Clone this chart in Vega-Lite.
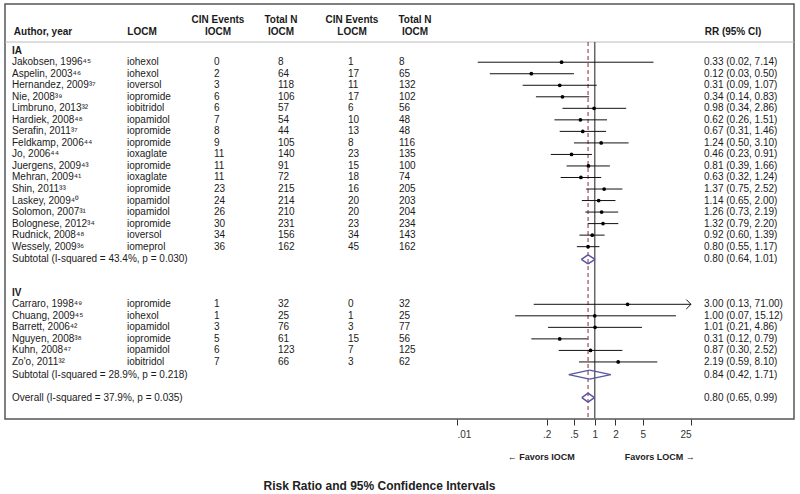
{
  "$schema": "https://vega.github.io/schema/vega-lite/v6.json",
  "width": 789,
  "height": 415,
  "autosize": {"type": "none"},
  "padding": {"left": 5, "top": 4, "right": 6, "bottom": 75},
  "background": "white",
  "config": {
    "view": {"stroke": "#555555", "strokeWidth": 1.5},
    "font": "Liberation Sans",
    "text": {"font": "Liberation Sans"}
  },
  "title": {
    "text": "Risk Ratio and 95% Confidence Intervals",
    "orient": "bottom",
    "anchor": "middle",
    "font": "Liberation Sans",
    "fontSize": 12,
    "fontWeight": "bold",
    "color": "#222222",
    "dx": -20,
    "offset": 19
  },
  "datasets": {
    "studies": [
      {"row": 5, "kind": "study", "author": "Jakobsen, 1996⁴⁵", "locm": "iohexol", "ei": 0, "ni": 8, "el": 1, "nl": 8, "rr": 0.33, "lo": 0.02, "hi": 7.14, "rrtxt": "0.33 (0.02, 7.14)"},
      {"row": 6, "kind": "study", "author": "Aspelin, 2003⁴⁶", "locm": "iohexol", "ei": 2, "ni": 64, "el": 17, "nl": 65, "rr": 0.12, "lo": 0.03, "hi": 0.5, "rrtxt": "0.12 (0.03, 0.50)"},
      {"row": 7, "kind": "study", "author": "Hernandez, 2009³⁷", "locm": "ioversol", "ei": 3, "ni": 118, "el": 11, "nl": 132, "rr": 0.31, "lo": 0.09, "hi": 1.07, "rrtxt": "0.31 (0.09, 1.07)"},
      {"row": 8, "kind": "study", "author": "Nie, 2008³⁹", "locm": "iopromide", "ei": 6, "ni": 106, "el": 17, "nl": 102, "rr": 0.34, "lo": 0.14, "hi": 0.83, "rrtxt": "0.34 (0.14, 0.83)"},
      {"row": 9, "kind": "study", "author": "Limbruno, 2013³²", "locm": "iobitridol", "ei": 6, "ni": 57, "el": 6, "nl": 56, "rr": 0.98, "lo": 0.34, "hi": 2.86, "rrtxt": "0.98 (0.34, 2.86)"},
      {"row": 10, "kind": "study", "author": "Hardiek, 2008⁴⁸", "locm": "iopamidol", "ei": 7, "ni": 54, "el": 10, "nl": 48, "rr": 0.62, "lo": 0.26, "hi": 1.51, "rrtxt": "0.62 (0.26, 1.51)"},
      {"row": 11, "kind": "study", "author": "Serafin, 2011³⁷", "locm": "iopromide", "ei": 8, "ni": 44, "el": 13, "nl": 48, "rr": 0.67, "lo": 0.31, "hi": 1.46, "rrtxt": "0.67 (0.31, 1.46)"},
      {"row": 12, "kind": "study", "author": "Feldkamp, 2006⁴⁴", "locm": "iopromide", "ei": 9, "ni": 105, "el": 8, "nl": 116, "rr": 1.24, "lo": 0.5, "hi": 3.1, "rrtxt": "1.24 (0.50, 3.10)"},
      {"row": 13, "kind": "study", "author": "Jo, 2006⁴⁴", "locm": "ioxaglate", "ei": 11, "ni": 140, "el": 23, "nl": 135, "rr": 0.46, "lo": 0.23, "hi": 0.91, "rrtxt": "0.46 (0.23, 0.91)"},
      {"row": 14, "kind": "study", "author": "Juergens, 2009⁴³", "locm": "iopromide", "ei": 11, "ni": 91, "el": 15, "nl": 100, "rr": 0.81, "lo": 0.39, "hi": 1.66, "rrtxt": "0.81 (0.39, 1.66)"},
      {"row": 15, "kind": "study", "author": "Mehran, 2009⁴¹", "locm": "ioxaglate", "ei": 11, "ni": 72, "el": 18, "nl": 74, "rr": 0.63, "lo": 0.32, "hi": 1.24, "rrtxt": "0.63 (0.32, 1.24)"},
      {"row": 16, "kind": "study", "author": "Shin, 2011³³", "locm": "iopromide", "ei": 23, "ni": 215, "el": 16, "nl": 205, "rr": 1.37, "lo": 0.75, "hi": 2.52, "rrtxt": "1.37 (0.75, 2.52)"},
      {"row": 17, "kind": "study", "author": "Laskey, 2009⁴⁰", "locm": "iopamidol", "ei": 24, "ni": 214, "el": 20, "nl": 203, "rr": 1.14, "lo": 0.65, "hi": 2.0, "rrtxt": "1.14 (0.65, 2.00)"},
      {"row": 18, "kind": "study", "author": "Solomon, 2007³¹", "locm": "iopamidol", "ei": 26, "ni": 210, "el": 20, "nl": 204, "rr": 1.26, "lo": 0.73, "hi": 2.19, "rrtxt": "1.26 (0.73, 2.19)"},
      {"row": 19, "kind": "study", "author": "Bolognese, 2012³⁴", "locm": "iopromide", "ei": 30, "ni": 231, "el": 23, "nl": 234, "rr": 1.32, "lo": 0.79, "hi": 2.2, "rrtxt": "1.32 (0.79, 2.20)"},
      {"row": 20, "kind": "study", "author": "Rudnick, 2008⁴⁸", "locm": "ioversol", "ei": 34, "ni": 156, "el": 34, "nl": 143, "rr": 0.92, "lo": 0.6, "hi": 1.39, "rrtxt": "0.92 (0.60, 1.39)"},
      {"row": 21, "kind": "study", "author": "Wessely, 2009³⁶", "locm": "iomeprol", "ei": 36, "ni": 162, "el": 45, "nl": 162, "rr": 0.8, "lo": 0.55, "hi": 1.17, "rrtxt": "0.80 (0.55, 1.17)"},
      {"row": 22.1, "kind": "sum", "author": "Subtotal  (I-squared = 43.4%, p = 0.030)", "rr": 0.8, "lo": 0.64, "hi": 1.01, "rrtxt": "0.80 (0.64, 1.01)"},
      {"row": 26, "kind": "study", "author": "Carraro, 1998⁴⁹", "locm": "iopromide", "ei": 1, "ni": 32, "el": 0, "nl": 32, "rr": 3.0, "lo": 0.13, "hi": 71.0, "rrtxt": "3.00 (0.13, 71.00)"},
      {"row": 27, "kind": "study", "author": "Chuang, 2009⁴⁵", "locm": "iohexol", "ei": 1, "ni": 25, "el": 1, "nl": 25, "rr": 1.0, "lo": 0.07, "hi": 15.12, "rrtxt": "1.00 (0.07, 15.12)"},
      {"row": 28, "kind": "study", "author": "Barrett, 2006⁴²", "locm": "iopamidol", "ei": 3, "ni": 76, "el": 3, "nl": 77, "rr": 1.01, "lo": 0.21, "hi": 4.86, "rrtxt": "1.01 (0.21, 4.86)"},
      {"row": 29, "kind": "study", "author": "Nguyen, 2008³⁸", "locm": "iopromide", "ei": 5, "ni": 61, "el": 15, "nl": 56, "rr": 0.31, "lo": 0.12, "hi": 0.79, "rrtxt": "0.31 (0.12, 0.79)"},
      {"row": 30, "kind": "study", "author": "Kuhn, 2008⁴⁷", "locm": "iopamidol", "ei": 6, "ni": 123, "el": 7, "nl": 125, "rr": 0.87, "lo": 0.3, "hi": 2.52, "rrtxt": "0.87 (0.30, 2.52)"},
      {"row": 31, "kind": "study", "author": "Zo'o, 2011³²", "locm": "iobitridol", "ei": 7, "ni": 66, "el": 3, "nl": 62, "rr": 2.19, "lo": 0.59, "hi": 8.1, "rrtxt": "2.19 (0.59, 8.10)"},
      {"row": 32.1, "kind": "sum", "author": "Subtotal  (I-squared = 28.9%, p = 0.218)", "rr": 0.84, "lo": 0.42, "hi": 1.71, "rrtxt": "0.84 (0.42, 1.71)"},
      {"row": 34.1, "kind": "sum", "author": "Overall  (I-squared = 37.9%, p = 0.035)", "rr": 0.8, "lo": 0.65, "hi": 0.99, "rrtxt": "0.80 (0.65, 0.99)"}
    ],
    "cols": [
      {"key": "author", "ci": 0},
      {"key": "locm", "ci": 1},
      {"key": "ei", "ci": 2},
      {"key": "ni", "ci": 3},
      {"key": "el", "ci": 4},
      {"key": "nl", "ci": 5},
      {"key": "rrtxt", "ci": 6}
    ],
    "headers": [
      {"ci": 0, "ln": 2, "h": "Author, year"},
      {"ci": 1, "ln": 2, "h": "LOCM"},
      {"ci": 2, "ln": 1, "h": "CIN Events"},
      {"ci": 2, "ln": 2, "h": "IOCM"},
      {"ci": 3, "ln": 1, "h": "Total N"},
      {"ci": 3, "ln": 2, "h": "IOCM"},
      {"ci": 4, "ln": 1, "h": "CIN Events"},
      {"ci": 4, "ln": 2, "h": "LOCM"},
      {"ci": 5, "ln": 1, "h": "Total N"},
      {"ci": 5, "ln": 2, "h": "IOCM"},
      {"ci": 6, "ln": 2, "h": "RR (95% CI)"}
    ],
    "groups": [
      {"row": 4, "g": "IA"},
      {"row": 25, "g": "IV"}
    ],
    "favors": [
      {"side": "left", "t": "← Favors IOCM"},
      {"side": "right", "t": "Favors LOCM →"}
    ]
  },
  "layer": [
    {
      "layer": [
        {
          "data": {"name": "studies"},
          "transform": [
            {"fold": ["author", "locm", "ei", "ni", "el", "nl", "rrtxt"], "as": ["key", "val"]},
            {"filter": "isValid(datum.val)"},
            {"lookup": "key", "from": {"data": {"name": "cols"}, "key": "key", "fields": ["ci"]}}
          ],
          "mark": {"type": "text", "align": "left", "baseline": "middle", "fontSize": 10, "color": "#1a1a1a"},
          "encoding": {
            "x": {"field": "ci", "type": "quantitative", "axis": null, "scale": {"domain": [0, 1, 2, 3, 4, 5, 6], "range": [7, 122, 209, 273, 343, 394, 699]}},
            "y": {"field": "row", "type": "quantitative", "axis": null, "scale": {"domain": [-0.05, 35.95], "reverse": true, "nice": false, "zero": false}},
            "text": {"field": "val", "type": "nominal"}
          }
        },
        {
          "data": {"name": "groups"},
          "mark": {"type": "text", "align": "left", "baseline": "middle", "fontSize": 10, "fontWeight": "bold", "color": "#1a1a1a"},
          "encoding": {
            "x": {"datum": 0, "type": "quantitative"},
            "y": {"field": "row", "type": "quantitative", "axis": null, "scale": {"domain": [-0.05, 35.95], "reverse": true, "nice": false, "zero": false}},
            "text": {"field": "g", "type": "nominal"}
          }
        }
      ]
    },
    {
      "data": {"name": "headers"},
      "transform": [{"filter": "datum.ln == 1"}],
      "mark": {"type": "text", "align": "center", "baseline": "middle", "fontSize": 10, "fontWeight": "bold", "color": "#1a1a1a"},
      "encoding": {
        "x": {"field": "ci", "type": "quantitative", "axis": null, "scale": {"domain": [0, 1, 2, 3, 4, 5, 6], "range": [38, 137, 213, 276, 347, 410, 728]}},
        "y": {"datum": 1.34, "type": "quantitative", "axis": null, "scale": {"domain": [-0.05, 35.95], "reverse": true, "nice": false, "zero": false}},
        "text": {"field": "h", "type": "nominal"}
      }
    },
    {
      "data": {"name": "headers"},
      "transform": [{"filter": "datum.ln == 2"}],
      "mark": {"type": "text", "align": "center", "baseline": "middle", "fontSize": 10, "fontWeight": "bold", "color": "#1a1a1a"},
      "encoding": {
        "x": {"field": "ci", "type": "quantitative", "axis": null, "scale": {"domain": [0, 1, 2, 3, 4, 5, 6], "range": [38, 137, 213, 276, 347, 410, 728]}},
        "y": {"datum": 2.34, "type": "quantitative", "axis": null, "scale": {"domain": [-0.05, 35.95], "reverse": true, "nice": false, "zero": false}},
        "text": {"field": "h", "type": "nominal"}
      }
    },
    {
      "data": {"values": [{}]},
      "mark": {"type": "rule", "color": "#bbbbbb", "strokeWidth": 1},
      "encoding": {
        "y": {"datum": 3.25, "type": "quantitative", "axis": null, "scale": {"domain": [-0.05, 35.95], "reverse": true, "nice": false, "zero": false}}
      }
    },
    {
      "layer": [
        {
          "data": {"values": [{}]},
          "mark": {"type": "rule", "color": "#666666", "strokeWidth": 1.5},
          "encoding": {
            "x": {"datum": 1, "type": "quantitative", "scale": {"type": "log", "domain": [0.01, 25], "range": [452, 686], "clamp": true, "nice": false},
              "axis": {"orient": "bottom", "values": [0.01, 0.2, 0.5, 1, 2, 5, 25], "labelExpr": "datum.value < 1 ? slice(format(datum.value, '~g'), 1) : format(datum.value, '~g')", "domain": false, "grid": false, "ticks": true, "tickSize": 6, "tickColor": "#333333", "labelFontSize": 10, "labelColor": "#333333", "labelFont": "Liberation Sans", "labelPadding": 4, "title": null}},
            "y": {"datum": 3.25, "type": "quantitative", "axis": null, "scale": {"domain": [-0.05, 35.95], "reverse": true, "nice": false, "zero": false}},
            "y2": {"datum": 35.95}
          }
        },
        {
          "data": {"values": [{}]},
          "mark": {"type": "rule", "color": "#8b2535", "strokeWidth": 1, "strokeDash": [4, 3]},
          "encoding": {
            "x": {"datum": 0.8, "type": "quantitative"},
            "y": {"datum": 3.25, "type": "quantitative"},
            "y2": {"datum": 35.95}
          }
        },
        {
          "data": {"name": "studies"},
          "transform": [{"filter": "datum.kind == 'study'"}],
          "mark": {"type": "rule", "color": "#111111", "strokeWidth": 1},
          "encoding": {
            "x": {"field": "lo", "type": "quantitative"},
            "x2": {"field": "hi"},
            "y": {"field": "row", "type": "quantitative"}
          }
        },
        {
          "data": {"name": "studies"},
          "transform": [{"filter": "datum.kind == 'study'"}],
          "mark": {"type": "point", "shape": "circle", "filled": true, "size": 14, "color": "#000000", "opacity": 1},
          "encoding": {
            "x": {"field": "rr", "type": "quantitative"},
            "y": {"field": "row", "type": "quantitative"}
          }
        },
        {
          "data": {"name": "studies"},
          "transform": [{"filter": "datum.kind == 'study' && datum.hi > 25"}],
          "mark": {"type": "point", "shape": "M -1 -1 L 0 0 L -1 1", "filled": false, "size": 90, "color": "#111111", "strokeWidth": 1, "opacity": 1},
          "encoding": {
            "x": {"field": "hi", "type": "quantitative"},
            "y": {"field": "row", "type": "quantitative"}
          }
        },
        {
          "data": {"name": "studies"},
          "transform": [{"filter": "datum.kind == 'sum'"}],
          "mark": {"type": "rule", "color": "#5656a2", "strokeWidth": 1.5, "y2Offset": -4.5},
          "encoding": {
            "x": {"field": "lo", "type": "quantitative"},
            "x2": {"field": "rr"},
            "y": {"field": "row", "type": "quantitative"},
            "y2": {"field": "row"}
          }
        },
        {
          "data": {"name": "studies"},
          "transform": [{"filter": "datum.kind == 'sum'"}],
          "mark": {"type": "rule", "color": "#5656a2", "strokeWidth": 1.5, "y2Offset": 4.5},
          "encoding": {
            "x": {"field": "lo", "type": "quantitative"},
            "x2": {"field": "rr"},
            "y": {"field": "row", "type": "quantitative"},
            "y2": {"field": "row"}
          }
        },
        {
          "data": {"name": "studies"},
          "transform": [{"filter": "datum.kind == 'sum'"}],
          "mark": {"type": "rule", "color": "#5656a2", "strokeWidth": 1.5, "yOffset": -4.5},
          "encoding": {
            "x": {"field": "rr", "type": "quantitative"},
            "x2": {"field": "hi"},
            "y": {"field": "row", "type": "quantitative"},
            "y2": {"field": "row"}
          }
        },
        {
          "data": {"name": "studies"},
          "transform": [{"filter": "datum.kind == 'sum'"}],
          "mark": {"type": "rule", "color": "#5656a2", "strokeWidth": 1.5, "yOffset": 4.5},
          "encoding": {
            "x": {"field": "rr", "type": "quantitative"},
            "x2": {"field": "hi"},
            "y": {"field": "row", "type": "quantitative"},
            "y2": {"field": "row"}
          }
        },
        {
          "data": {"name": "favors"},
          "transform": [{"filter": "datum.side == 'left'"}],
          "mark": {"type": "text", "align": "right", "baseline": "middle", "fontSize": 9, "fontWeight": "bold", "color": "#222222", "dx": -20},
          "encoding": {
            "x": {"datum": 1, "type": "quantitative"},
            "y": {"datum": 39.25, "type": "quantitative"},
            "text": {"field": "t", "type": "nominal"}
          }
        },
        {
          "data": {"name": "favors"},
          "transform": [{"filter": "datum.side == 'right'"}],
          "mark": {"type": "text", "align": "left", "baseline": "middle", "fontSize": 9, "fontWeight": "bold", "color": "#222222", "dx": 30},
          "encoding": {
            "x": {"datum": 1, "type": "quantitative"},
            "y": {"datum": 39.25, "type": "quantitative"},
            "text": {"field": "t", "type": "nominal"}
          }
        }
      ]
    }
  ],
  "resolve": {"scale": {"x": "independent"}}
}
